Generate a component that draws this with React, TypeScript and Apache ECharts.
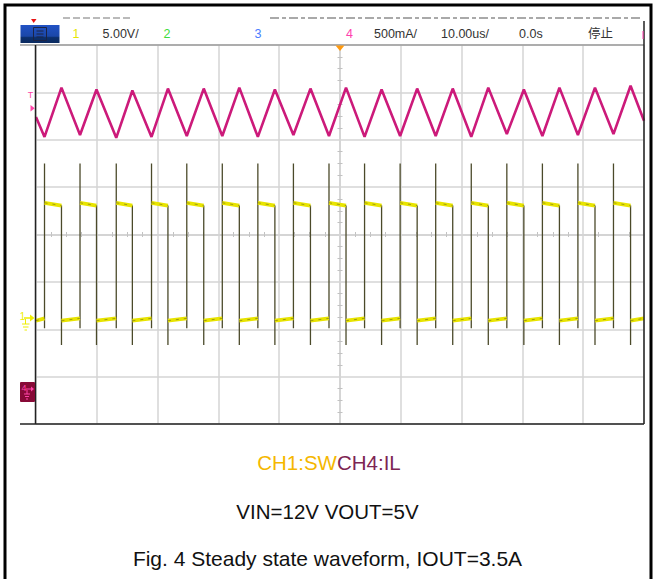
import React, { useEffect, useRef } from "react";
import * as echarts from "echarts";

// ---- Data read from the scope capture (time in µs, CH1 in V, CH4 in A) ----
const riseTimes = [1.40, 7.24, 13.20, 19.00, 24.80, 30.64, 36.49, 42.34, 48.19, 54.04, 59.89, 65.74, 71.59, 77.44, 83.29, 89.13, 94.98];
const fallTimes = [4.19, 9.95, 15.85, 21.70, 27.59, 33.44, 39.29, 45.14, 50.99, 56.84, 62.69, 68.54, 74.39, 80.24, 86.09, 91.94, 97.79];
// SW (CH1) levels: [start of high, end of high]
const swHigh = [12.15, 11.85];
// SW low level: [start of low, end of low]
const swLow = [-0.3, -0.05];
// SW edge extremes: [rising-edge bottom, rising-edge overshoot]
const swRiseEdge = [-1.1, 16.3];
// SW falling edge: [top, undershoot]
const swFallEdge = [11.85, -2.85];
// IL (CH4) values at each rising edge (valleys) and falling edge (peaks)
const ilValleys = [2.69, 2.71, 2.68, 2.69, 2.70, 2.70, 2.69, 2.71, 2.70, 2.69, 2.70, 2.70, 2.69, 2.72, 2.70, 2.71, 2.72];
const ilPeaks = [3.21, 3.19, 3.18, 3.20, 3.20, 3.21, 3.19, 3.20, 3.21, 3.19, 3.20, 3.20, 3.21, 3.19, 3.21, 3.21, 3.23];
const ilEnds = [2.90, 2.86]; // at t = 0 and t = 100 µs
const timeRange = [0, 100];
const ch1Range = [-11.2, 28.8]; // 5 V/div, 8 divisions
const ch4Range = [-0.34, 3.66]; // 500 mA/div, 8 divisions

// header labels
const headerLabels = ["1", "5.00V/", "2", "3", "4", "500mA/", "10.00us/", "0.0s", "停止"];
const captionLegend = ["CH1:SW", "CH4:IL"];
const captionLines = ["VIN=12V VOUT=5V", "Fig. 4 Steady state waveform, IOUT=3.5A"];

const GAP: any = ["-", "-"];

function buildSwLevels() {
  const d: any[] = [];
  d.push([timeRange[0], swLow[0]], [riseTimes[0], swLow[1]], GAP);
  for (let i = 0; i < riseTimes.length; i++) {
    d.push([riseTimes[i], swHigh[0]], [fallTimes[i], swHigh[1]], GAP);
    const next = i + 1 < riseTimes.length ? riseTimes[i + 1] : timeRange[1];
    d.push([fallTimes[i], swLow[0]], [next, swLow[1]], GAP);
  }
  return d;
}

function buildSwEdges() {
  const d: any[] = [];
  for (let i = 0; i < riseTimes.length; i++) {
    d.push([riseTimes[i], swRiseEdge[0]], [riseTimes[i], swRiseEdge[1]], GAP);
    d.push([fallTimes[i], swFallEdge[0]], [fallTimes[i], swFallEdge[1]], GAP);
  }
  return d;
}

function buildIl() {
  const d: any[] = [[timeRange[0], ilEnds[0]]];
  for (let i = 0; i < riseTimes.length; i++) {
    d.push([riseTimes[i], ilValleys[i]], [fallTimes[i], ilPeaks[i]]);
  }
  d.push([timeRange[1], ilEnds[1]]);
  return d;
}

const FONT = "'Liberation Sans', Arial, 'Noto Sans CJK SC', sans-serif";
const GRID_C = "#d4d4d4";

function txt(text: string, x: number, y: number, fill: string, size: number, align = "left", extra: any = {}) {
  return {
    type: "text",
    z: 120,
    style: {
      text, x, y, fill,
      font: `${size}px ${FONT}`,
      align, textAlign: align,
      verticalAlign: "middle", textVerticalAlign: "middle",
      ...extra,
    },
  };
}
function ln(x1: number, y1: number, x2: number, y2: number, stroke: string, lineWidth = 1, extra: any = {}) {
  return { type: "line", z: 110, shape: { x1, y1, x2, y2 }, style: { stroke, lineWidth, ...extra } };
}
function poly(points: number[][], fill: string) {
  return { type: "polygon", z: 115, shape: { points }, style: { fill } };
}

const divAxisCommon = (min: number, max: number, position: string) => ({
  type: "value",
  min, max, interval: 1,
  position,
  axisLine: { show: true, onZero: true, onZeroAxisIndex: 0, lineStyle: { color: GRID_C, width: 1.5 } },
  axisTick: { show: false },
  minorTick: { show: true, splitNumber: 4, length: 2.5, lineStyle: { color: "#c2c2c2", width: 1 } },
  axisLabel: { show: false },
  minorSplitLine: { show: false },
});

export default function App() {
  const ref = useRef<HTMLDivElement>(null);
  useEffect(() => {
    if (!ref.current) return;
    const chart = echarts.init(ref.current, undefined, { renderer: "svg" });
    const yellow = "#e8e400";
    const pink = "#ff44a8";
    const levels = buildSwLevels();
    const option: any = {
      animation: false,
      backgroundColor: "#ffffff",
      grid: { left: 36, top: 45, width: 608, height: 379, containLabel: false },
      xAxis: [
        { ...divAxisCommon(-5, 5, "bottom"), splitLine: { show: true, lineStyle: { color: GRID_C, width: 1.5 } } },
        { ...divAxisCommon(-5, 5, "top"), splitLine: { show: false } },
        { type: "value", min: timeRange[0], max: timeRange[1], show: false },
      ],
      yAxis: [
        { ...divAxisCommon(-4, 4, "left"), splitLine: { show: true, lineStyle: { color: GRID_C, width: 1.5 } } },
        { ...divAxisCommon(-4, 4, "right"), splitLine: { show: false } },
        { type: "value", min: ch1Range[0], max: ch1Range[1], show: false },
        { type: "value", min: ch4Range[0], max: ch4Range[1], show: false },
      ],
      series: [
        {
          name: "SW edges", type: "line", xAxisIndex: 2, yAxisIndex: 2,
          data: buildSwEdges(), symbol: "none", connectNulls: false, z: 3,
          lineStyle: { color: "#4b4a2a", width: 1.3 },
        },
        {
          name: "CH1:SW", type: "line", xAxisIndex: 2, yAxisIndex: 2,
          data: levels, symbol: "none", connectNulls: false, z: 4,
          lineStyle: { color: yellow, width: 3.8 },
        },
        {
          name: "SW specks", type: "line", xAxisIndex: 2, yAxisIndex: 2,
          data: levels, symbol: "none", connectNulls: false, z: 4.5,
          lineStyle: { color: "#5c5a1c", width: 1, opacity: 0.5, type: [3, 5] },
        },
        {
          name: "CH4:IL", type: "line", xAxisIndex: 2, yAxisIndex: 3,
          data: buildIl(), symbol: "none", z: 5,
          lineStyle: { color: "#cc1a7a", width: 2.6 },
        },
      ],
      graphic: {
        elements: [
          // outer document frame
          { type: "rect", z: 130, shape: { x: 5, y: 5, width: 646, height: 620 }, style: { fill: "none", stroke: "#000", lineWidth: 3 } },
          // scope screen borders
          ln(20, 45, 644, 45, "#9c9c9c", 1.5),
          ln(35.5, 45, 35.5, 424, "#222", 1.5),
          ln(20, 424, 644, 424, "#222", 1.5),
          ln(644, 21, 644, 424, "#222", 1.5),
          // cropped status text remnants
          ln(63, 18, 133, 18, "#777", 1.2, { lineDash: [7, 3] }),
          ln(270, 18, 643, 18, "#555", 1.2, { lineDash: [9, 3, 4, 3] }),
          // menu button
          {
            type: "rect", z: 110, shape: { x: 20.5, y: 25, width: 39, height: 18 },
            style: {
              fill: new echarts.graphic.LinearGradient(0, 0, 0, 1, [
                { offset: 0, color: "#2152c4" },
                { offset: 0.62, color: "#1b47a8" },
                { offset: 0.7, color: "#0c2f6c" },
                { offset: 1, color: "#0a2a60" },
              ]),
            },
          },
          { type: "rect", z: 112, shape: { x: 33.5, y: 27.5, width: 13, height: 13 }, style: { fill: "none", stroke: "#1c2444", lineWidth: 1 } },
          ln(36.5, 31, 43.5, 31, "#1c2444", 1),
          ln(36.5, 34, 43.5, 34, "#1c2444", 1),
          ln(36.5, 37, 43.5, 37, "#1c2444", 1),
          poly([[31, 19], [36.5, 19], [33.7, 23]], "#e81414"),
          // header texts
          txt(headerLabels[0], 76, 34, "#e6e600", 12.5, "center"),
          txt(headerLabels[1], 102.5, 34, "#333", 12.5),
          txt(headerLabels[2], 167, 34, "#3ddc3d", 12.5, "center"),
          txt(headerLabels[3], 258, 34, "#4a7dff", 12.5, "center"),
          txt(headerLabels[4], 349.5, 34, "#ff3fae", 12.5, "center"),
          txt(headerLabels[5], 374, 34, "#333", 12.5),
          txt(headerLabels[6], 441, 34, "#333", 12.5),
          txt(headerLabels[7], 519, 34, "#333", 12.5),
          txt(headerLabels[8], 588, 34, "#333", 12.5),
          ln(643, 31, 643, 39, "#ff3fae", 1),
          // trigger position marker
          poly([[335.5, 45.5], [344.5, 45.5], [340, 51]], "#ff9a10"),
          // trigger level marker
          txt("T", 30.5, 95, pink, 9, "center"),
          poly([[30.5, 105], [30.5, 111.5], [34.8, 108.2]], pink),
          // CH1 ground marker
          txt("1", 22.5, 316.5, "#eeee00", 10, "center"),
          ln(24, 318, 31, 318, "#eeee00", 1.5),
          poly([[30, 314.5], [30, 321.5], [34.5, 318]], "#eeee00"),
          ln(25.5, 319, 25.5, 324, "#eeee00", 1),
          ln(22, 324, 29.5, 324, "#eeee00", 1),
          ln(23, 327, 28.5, 327, "#eeee00", 1),
          ln(24.5, 330, 27, 330, "#eeee00", 1),
          // CH4 marker
          { type: "rect", z: 110, shape: { x: 20, y: 382, width: 15, height: 20, r: 1 }, style: { fill: "#870a37" } },
          txt("4", 24, 388, pink, 9, "center"),
          ln(26, 389, 32, 389, pink, 1),
          poly([[31, 386.5], [31, 391.5], [34, 389]], pink),
          ln(27, 390, 27, 394, pink, 1),
          ln(24, 394, 30, 394, pink, 1),
          ln(25, 396.5, 29, 396.5, pink, 1),
          ln(26, 399, 28, 399, pink, 1),
          // captions
          {
            type: "text", z: 120,
            style: {
              text: `{a|${captionLegend[0]}}{b|${captionLegend[1]}}`,
              x: 329, y: 462,
              align: "center", textAlign: "center",
              verticalAlign: "middle", textVerticalAlign: "middle",
              rich: {
                a: { fill: "#f5b700", fontSize: 20.5, fontFamily: FONT },
                b: { fill: "#7d2553", fontSize: 20.5, fontFamily: FONT },
              },
            },
          },
          txt(captionLines[0], 327.5, 511, "#111", 20.5, "center"),
          txt(captionLines[1], 327.5, 558, "#111", 21, "center"),
        ],
      },
    };
    chart.setOption(option);
    return () => chart.dispose();
  }, []);
  return <div ref={ref} style={{ position: "fixed", left: 0, top: 0, width: 656, height: 579 }} />;
}
